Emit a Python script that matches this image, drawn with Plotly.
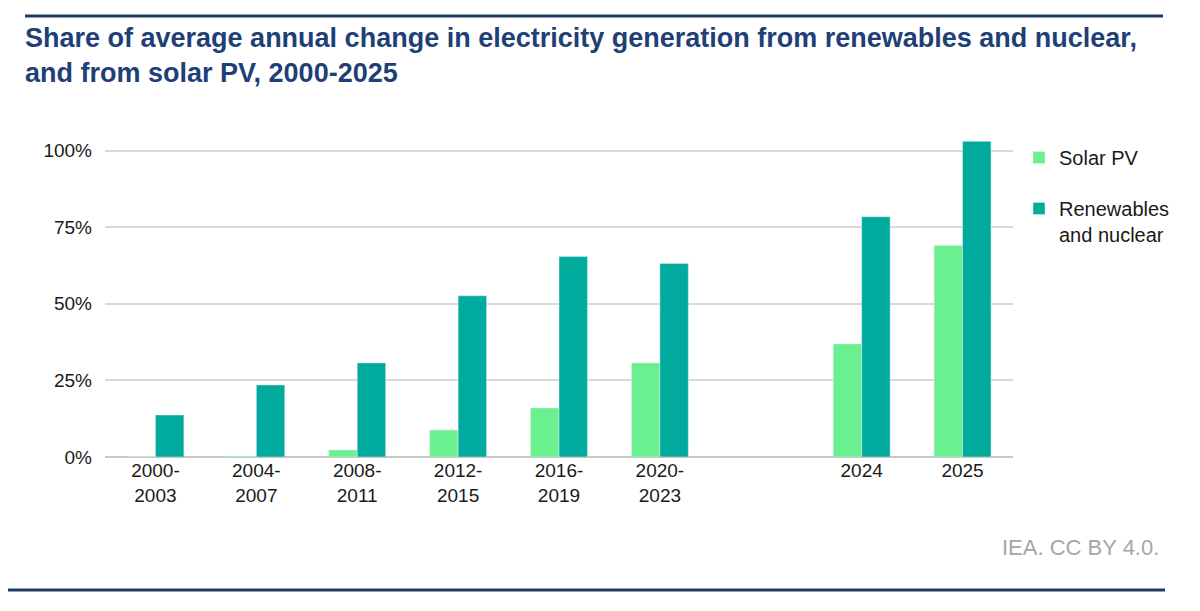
import plotly.graph_objects as go

# periods (blank slot separates the multi-year averages from single years)
periods = ["2000-<br>2003", "2004-<br>2007", "2008-<br>2011", "2012-<br>2015",
           "2016-<br>2019", "2020-<br>2023", " ", "2024", "2025"]
solar_pv = [0.002, 0.003, 0.023, 0.088, 0.160, 0.307, None, 0.369, 0.690]
renew_nuclear = [0.137, 0.235, 0.307, 0.526, 0.654, 0.631, None, 0.784, 1.030]

W, H = 1200, 611
OFF = 8  # page offset of the figure in the browser
# plot area in screen pixels
PX0, PX1, PY0, PY1 = 105, 1013, 126, 457
L, R, T, B = PX0 - OFF, W - (PX1 - OFF), PY0 - OFF, H - (PY1 - OFF)

def px_x(x):
    return (x - PX0) / (PX1 - PX0)

def px_y(y):
    return (PY1 - y) / (PY1 - PY0)

fig = go.Figure()
fig.add_trace(go.Bar(x=periods, y=solar_pv, name="Solar PV",
                     marker_color="#6AF08F", legendgroup="a"))
fig.add_trace(go.Bar(x=periods, y=renew_nuclear, name="Renewables<br>and nuclear",
                     marker_color="#00AA9C", legendgroup="b"))

fig.update_layout(
    width=W, height=H,
    margin=dict(l=L, r=R, t=T, b=B),
    paper_bgcolor="white", plot_bgcolor="white",
    font=dict(family="Liberation Sans, Arial", size=19, color="#1A1A1A"),
    barmode="group", bargap=0.436, bargroupgap=0,
    hovermode=False,
    title=dict(
        text="<b>Share of average annual change in electricity generation from renewables and nuclear,"
             "<br>and from solar PV, 2000-2025</b>",
        x=(25 - OFF) / W, xanchor="left", xref="container",
        y=1 - 39 / H, yanchor="top", yref="container",
        font=dict(size=27, color="#1F3F77"),
    ),
    legend=dict(x=px_x(1019), y=px_y(138), xanchor="left", yanchor="top",
                font=dict(size=20), tracegroupgap=22, valign="top",
                itemwidth=30, bgcolor="rgba(0,0,0,0)"),
)

fig.update_xaxes(type="category", categoryorder="array", categoryarray=periods,
                 showgrid=False, ticks="", showline=False,
                 tickfont=dict(size=19, color="#1A1A1A"))
fig.update_yaxes(range=[0, 1.08], tickvals=[0, 0.25, 0.5, 0.75, 1.0],
                 tickformat=".0%", gridcolor="#D9D9D9", gridwidth=1.5,
                 zeroline=True, zerolinecolor="#C8C8C8", zerolinewidth=1.5,
                 ticklabelstandoff=12, tickfont=dict(size=19, color="#1A1A1A"))

# rules above and below the chart
fig.add_shape(type="line", xref="paper", yref="paper",
              x0=px_x(25), x1=px_x(1163), y0=px_y(16), y1=px_y(16),
              line=dict(color="#1F3864", width=3))
fig.add_shape(type="line", xref="paper", yref="paper",
              x0=px_x(8), x1=px_x(1165), y0=px_y(590), y1=px_y(590),
              line=dict(color="#1F3864", width=3))

fig.add_annotation(text="IEA. CC BY 4.0.", xref="paper", yref="paper",
                   x=px_x(1161), y=px_y(547), xanchor="right", yanchor="middle",
                   showarrow=False,
                   font=dict(family="Liberation Sans Narrow, Arial Narrow, Liberation Sans",
                             size=22, color="#A6A6A6"))

fig.write_html("out.html")
